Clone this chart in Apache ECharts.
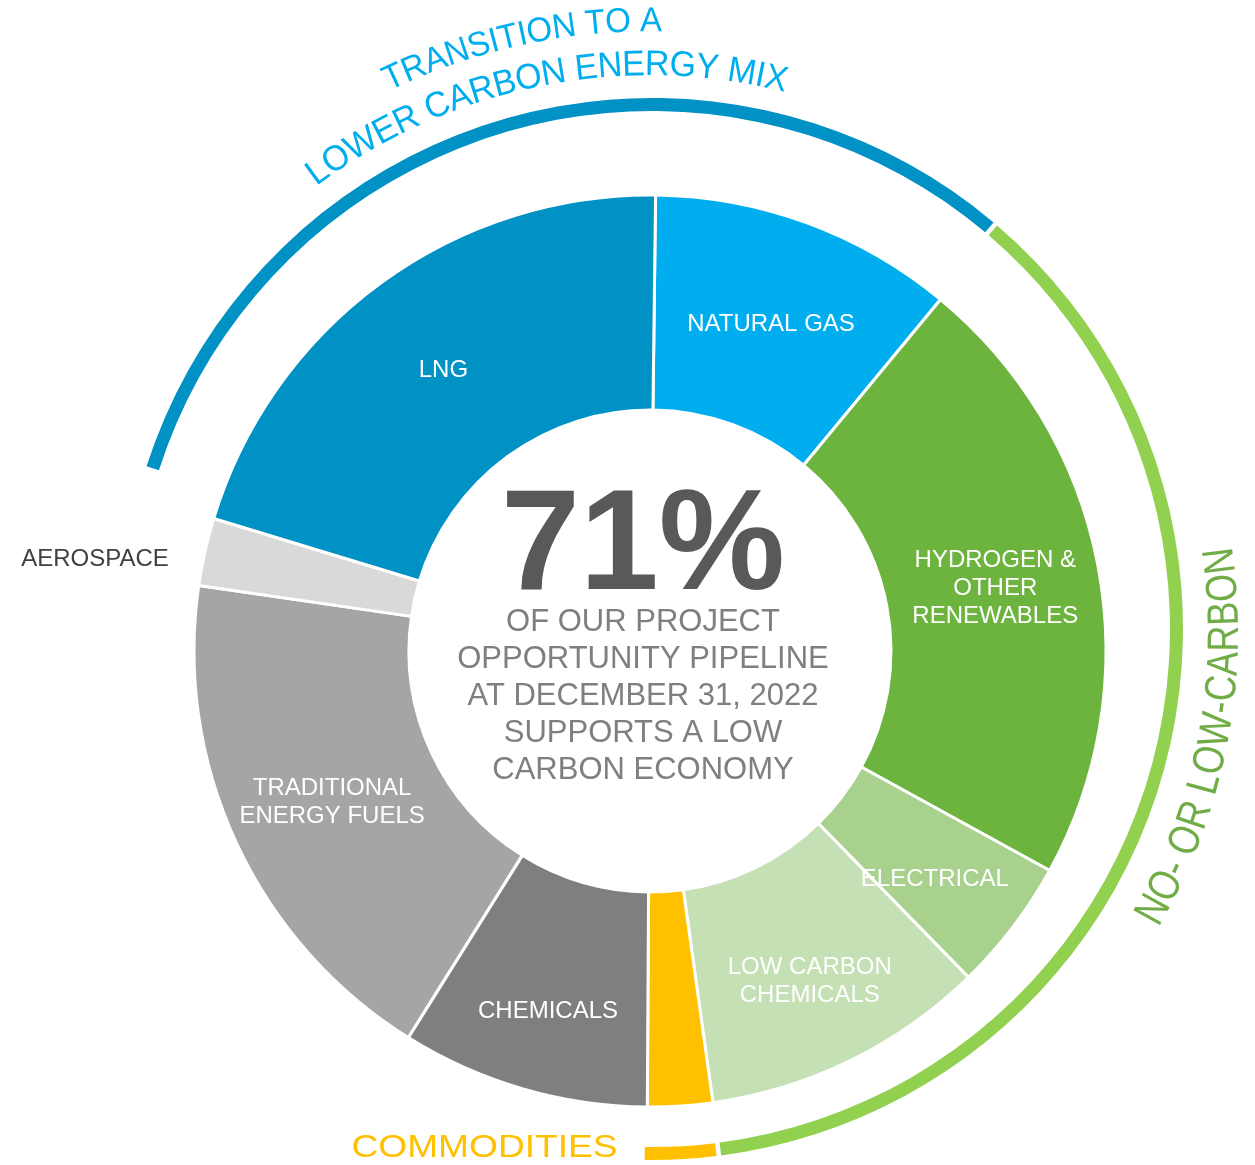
<!DOCTYPE html>
<html>
<head>
<meta charset="utf-8">
<script src="https://cdn.jsdelivr.net/npm/echarts@6/dist/echarts.min.js"></script>
<style>
html,body{margin:0;padding:0;background:#ffffff;}
#chart{width:1255px;height:1165px;}
</style>
</head>
<body>
<div id="chart"></div>
<script>
// ---------- DATA ----------
const categories = ['NATURAL GAS', 'HYDROGEN & OTHER RENEWABLES', 'ELECTRICAL', 'LOW CARBON CHEMICALS', 'COMMODITIES', 'CHEMICALS', 'TRADITIONAL ENERGY FUELS', 'AEROSPACE', 'LNG'];
const sliceLabels = ['NATURAL GAS', 'HYDROGEN &\nOTHER\nRENEWABLES', 'ELECTRICAL', 'LOW CARBON\nCHEMICALS', '', 'CHEMICALS', 'TRADITIONAL\nENERGY FUELS', 'AEROSPACE', 'LNG'];
const shares = [10.8, 22.0, 4.7, 10.1, 2.3, 8.8, 18.4, 2.4, 20.5];
const sliceColors = ['#00AEEF', '#6DB43F', '#A9D18E', '#C5E0B4', '#FFC000', '#7F7F7F', '#A5A5A5', '#D9D9D9', '#0091C5'];

const groupNames = ['TRANSITION', 'LOWCARBON', 'COMMODITIES'];
const groupMembers = [
  ['LNG', 'NATURAL GAS'],
  ['HYDROGEN & OTHER RENEWABLES', 'ELECTRICAL', 'LOW CARBON CHEMICALS'],
  ['COMMODITIES']
];
const groupColors = ['#0091C5', '#92D050', '#FFC000'];

const headline = '71%';
const subtitleLines = ['OF OUR PROJECT', 'OPPORTUNITY PIPELINE', 'AT DECEMBER 31, 2022', 'SUPPORTS A LOW', 'CARBON ECONOMY'];
const arcTitleLine1 = 'TRANSITION TO A';
const arcTitleLine2 = 'LOWER CARBON ENERGY MIX';
const arcTitleRight = 'NO- OR LOW-CARBON';
const commoditiesTitle = 'COMMODITIES';

// ---------- BUILD ----------
const FONT = '"Liberation Sans", Arial, sans-serif';
const MID = 0.298;                 // distance baseline -> 'middle' anchor, in em
const CX = 650, CY = 651;          // donut centre
const RCX = 652, RCY = 629;        // outer ring centre

const valueOf = name => shares[categories.indexOf(name)];
const groupValues = groupMembers.map(m => m.reduce((s, n) => s + valueOf(n), 0));
const total = shares.reduce((a, b) => a + b, 0);
const restValue = total - groupValues.reduce((a, b) => a + b, 0);

const labelOffsets = {
  'NATURAL GAS': {dx: 0, dy: 3.5},
  'HYDROGEN & OTHER RENEWABLES': {dx: 0, dy: 3.5},
  'ELECTRICAL': {dx: 5, dy: 16},
  'LOW CARBON CHEMICALS': {dx: 5, dy: 15},
  'CHEMICALS': {dx: -4, dy: 23},
  'TRADITIONAL ENERGY FUELS': {dx: 1, dy: 3.5},
  'LNG': {dx: 1, dy: 3.5}
};

const pieData = categories.map((c, i) => {
  const item = {name: c, value: shares[i], itemStyle: {color: sliceColors[i]},
    label: {formatter: sliceLabels[i]}};
  if (c === 'COMMODITIES') item.label.show = false;
  if (c === 'AEROSPACE') item.label.color = '#404040';
  return item;
});

const ringData = groupNames.map((g, i) => ({name: g, value: groupValues[i], itemStyle: {color: groupColors[i]}}));
ringData.push({name: 'rest', value: restValue, itemStyle: {color: 'rgba(0,0,0,0)'}});

// text along an arc, one character at a time
const measureCtx = document.createElement('canvas').getContext('2d');
function arcText(str, cx, cy, rBase, thetaDeg, fontSize, color, inward, sy) {
  sy = sy || 1;
  measureCtx.font = fontSize + 'px ' + FONT;
  const chars = Array.from(str);
  const widths = chars.map(ch => measureCtx.measureText(ch).width);
  const totalW = widths.reduce((a, b) => a + b, 0);
  const rMid = inward ? rBase - MID * fontSize * sy : rBase + MID * fontSize * sy;
  const span = totalW / rMid;
  const dir = inward ? -1 : 1;
  const start = thetaDeg * Math.PI / 180 - dir * span / 2;
  const els = [];
  let acc = 0;
  chars.forEach((ch, i) => {
    const w = widths[i];
    const th = start + dir * (acc + w / 2) / rMid;
    acc += w;
    if (ch === ' ') return;
    els.push({
      type: 'text', silent: true,
      x: cx + rMid * Math.sin(th), y: cy - rMid * Math.cos(th),
      rotation: inward ? Math.PI - th : -th,
      scaleY: sy,
      style: {text: ch, fill: color, fontSize: fontSize, fontFamily: FONT,
        align: 'center', verticalAlign: 'middle', textAlign: 'center', textVerticalAlign: 'middle'}
    });
  });
  return els;
}

const graphics = [];
graphics.push({
  type: 'text', silent: true, x: 643, y: 592 - MID * 142,
  style: {text: headline, fill: '#595959', fontSize: 142, fontWeight: 'bold', fontFamily: FONT,
    align: 'center', verticalAlign: 'middle', textAlign: 'center', textVerticalAlign: 'middle'}
});
subtitleLines.forEach((t, i) => {
  graphics.push({
    type: 'text', silent: true, x: 643, y: 632 + 37 * i - MID * 31,
    style: {text: t, fill: '#7F7F7F', fontSize: 31, fontFamily: FONT,
      align: 'center', verticalAlign: 'middle', textAlign: 'center', textVerticalAlign: 'middle'}
  });
});
graphics.push(...arcText(arcTitleLine1, 650, 632, 600, -12.3, 33, '#00AEEF', false, 1.05));
graphics.push(...arcText(arcTitleLine2, 650, 632, 556, -11.4, 34, '#00AEEF', false, 1.05));
graphics.push(...arcText(arcTitleRight, 650, 632, 589, 100.9, 36, '#70AD47', true, 1.22));
graphics.push({
  type: 'text', silent: true, x: 484.5, y: 1158 - MID * 32, scaleX: 1.16,
  style: {text: commoditiesTitle, fill: '#FFC000', fontSize: 32, fontFamily: FONT,
    align: 'center', verticalAlign: 'middle', textAlign: 'center', textVerticalAlign: 'middle'}
});

const chart = echarts.init(document.getElementById('chart'), null, {renderer: 'canvas'});
chart.setOption({
  backgroundColor: '#ffffff',
  animation: false,
  series: [
    {
      type: 'pie',
      center: [CX, CY],
      radius: [241, 456],
      startAngle: 89.3,
      clockwise: true,
      silent: true,
      avoidLabelOverlap: false,
      itemStyle: {borderColor: '#ffffff', borderWidth: 3},
      label: {show: true, position: 'inside', color: '#ffffff', fontSize: 24, lineHeight: 28,
        fontFamily: FONT, align: 'center'},
      labelLine: {show: false},
      emphasis: {disabled: true},
      labelLayout: function (params) {
        const name = categories[params.dataIndex];
        if (name === 'AEROSPACE') return {x: 95, y: 559, align: 'center', verticalAlign: 'middle'};
        return labelOffsets[name] || {};
      },
      data: pieData
    },
    {
      type: 'pie',
      center: [RCX, RCY],
      radius: [518, 531],
      startAngle: 162.4,
      clockwise: true,
      padAngle: 0.5,
      silent: true,
      label: {show: false},
      labelLine: {show: false},
      emphasis: {disabled: true},
      data: ringData
    }
  ],
  graphic: graphics
});
</script>
</body>
</html>
